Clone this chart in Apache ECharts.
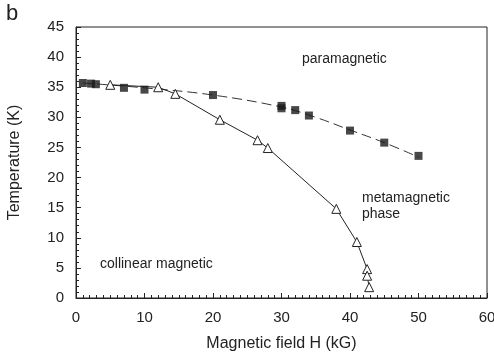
<!DOCTYPE html>
<html>
<head>
<meta charset="utf-8">
<script src="https://cdn.jsdelivr.net/npm/echarts@6/dist/echarts.min.js"></script>
<style>
html, body { margin: 0; padding: 0; background: #fff; }
#chart { width: 494px; height: 353px; }
</style>
</head>
<body>
<div id="chart"></div>
<script>
// squares (filled): field H (kG), temperature (K)
const squareH = [1, 2.2, 2.9, 7, 10, 20, 30, 30, 32, 34, 40, 45, 50]
const squareT = [35.7, 35.6, 35.5, 34.9, 34.6, 33.7, 31.9, 31.5, 31.2, 30.3, 27.8, 25.8, 23.6]

// dashed guide curve through the squares
const curveH = [1, 10, 20, 30, 35, 40, 45, 50]
const curveT = [35.7, 34.9, 33.7, 31.7, 30.0, 27.9, 25.8, 23.4]

// triangles (open), joined by a solid line
const triH = [5, 12, 14.5, 21, 26.5, 28, 38, 41, 42.5, 42.5, 42.8]
const triT = [35.4, 35.0, 33.9, 29.6, 26.2, 24.9, 14.8, 9.3, 4.8, 3.7, 1.8]

const xTicks = [0, 10, 20, 30, 40, 50, 60]
const yTicks = [0, 5, 10, 15, 20, 25, 30, 35, 40, 45]

const zip = (a, b) => a.map((v, i) => [v, b[i]])

const chart = echarts.init(document.getElementById('chart'))
window.addEventListener('resize', () => {
	chart.resize()
})

const font = 'Liberation Sans, Arial, sans-serif'
const ink = '#222'

chart.setOption({
	animation: false,
	grid: {
		left: 76, top: 27, right: 7, bottom: 55,
		outerBoundsMode: 'none', containLabel: false,
		show: true, borderColor: ink, borderWidth: 1
	},
	xAxis: {
		type: 'value',
		min: xTicks[0],
		max: xTicks[xTicks.length - 1],
		interval: 10,
		name: 'Magnetic field H (kG)',
		nameLocation: 'middle',
		nameGap: 38,
		nameTextStyle: { fontFamily: font, fontSize: 16, color: ink },
		axisLine: { lineStyle: { color: ink } },
		axisTick: { inside: true, length: 5, lineStyle: { color: ink } },
		minorTick: { show: true, splitNumber: 10, length: 3, lineStyle: { color: ink } },
		splitLine: { show: false },
		axisLabel: { fontFamily: font, fontSize: 15, color: ink, margin: 12 }
	},
	yAxis: {
		type: 'value',
		min: yTicks[0],
		max: yTicks[yTicks.length - 1],
		interval: 5,
		name: 'Temperature (K)',
		nameLocation: 'middle',
		nameGap: 53,
		nameTextStyle: { fontFamily: font, fontSize: 16, color: ink },
		axisLine: { show: true, lineStyle: { color: ink } },
		axisTick: { show: true, inside: true, length: 5, lineStyle: { color: ink } },
		minorTick: { show: true, splitNumber: 5, length: 3, lineStyle: { color: ink } },
		splitLine: { show: false },
		axisLabel: { fontFamily: font, fontSize: 15, color: ink, margin: 12 }
	},
	graphic: [
		{ type: 'text', left: 6, top: 3, style: { text: 'b', font: '22px ' + font, fill: ink } },
		{ type: 'text', left: 302, top: 52, style: { text: 'paramagnetic', font: '14px ' + font, fill: ink } },
		{ type: 'text', left: 362, top: 190, style: { text: 'metamagnetic\nphase', font: '14px ' + font, fill: ink, lineHeight: 16 } },
		{ type: 'text', left: 100, top: 257, style: { text: 'collinear magnetic', font: '14px ' + font, fill: ink } }
	],
	series: [
		{
			type: 'line',
			data: zip(curveH, curveT),
			smooth: 0.4,
			showSymbol: false,
			lineStyle: { color: '#333', width: 1, type: [10, 5] },
			z: 1
		},
		{
			type: 'scatter',
			data: zip(squareH, squareT),
			symbol: 'rect',
			symbolSize: 8,
			itemStyle: { color: '#1a1a1a' },
			z: 3
		},
		{
			type: 'line',
			data: zip(triH, triT),
			symbol: 'triangle',
			symbolSize: 9,
			showAllSymbol: true,
			lineStyle: { color: ink, width: 1 },
			itemStyle: { color: '#fff', borderColor: ink, borderWidth: 1 },
			z: 4
		}
	]
})
</script>
</body>
</html>
